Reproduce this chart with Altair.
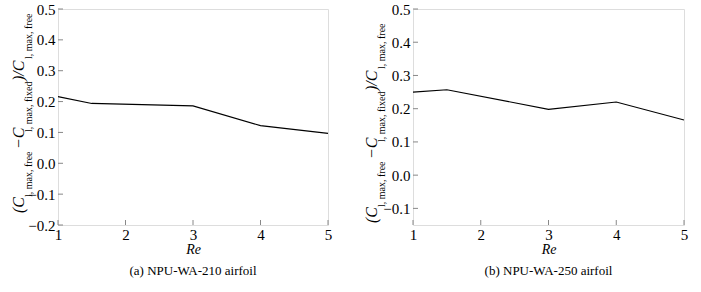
import altair as alt
import pandas as pd

# ---- data ----
re_a = [1, 1.5, 3, 4, 5]
val_a = [0.216, 0.194, 0.186, 0.122, 0.097]
re_b = [1, 1.5, 3, 4, 5]
val_b = [0.250, 0.257, 0.198, 0.220, 0.166]

x_ticks = [1, 2, 3, 4, 5]
y_ticks_a = [-0.2, -0.1, 0.0, 0.1, 0.2, 0.3, 0.4, 0.5]
y_ticks_b = [-0.1, 0.0, 0.1, 0.2, 0.3, 0.4, 0.5]

captions = ["(a) NPU-WA-210 airfoil", "(b) NPU-WA-250 airfoil"]

# y-axis title pieces: (text, is_subscript)
title_parts = [("(C", False), ("l, max, free", True), ("\u2212C", False),
               ("l, max, fixed", True), (")/C", False), ("l, max, free", True)]

FONT = "Liberation Serif"
H = 216


def panel(xs, ys, ydom, yticks, caption, starts, base_x, width):
    df = pd.DataFrame({"Re": xs, "v": ys})
    xsc = alt.Scale(domain=[1, 5], nice=False, zero=False)
    ysc = alt.Scale(domain=ydom, nice=False, zero=False)
    xax = alt.Axis(values=x_ticks, format="d", ticks=False, domain=False,
                   grid=False, title="Re", titleFontStyle="italic",
                   titleFontWeight="normal", titleFont=FONT, titleFontSize=14,
                   titlePadding=0, labelFont=FONT, labelFontSize=15,
                   labelColor="black", titleColor="black", labelPadding=2,
                   labelFlush=False, labelOverlap=False)
    yax = alt.Axis(values=yticks, format=".1f", ticks=False, domain=False,
                   grid=False, title=None, labelFont=FONT, labelFontSize=15,
                   labelColor="black", labelPadding=3, labelFlush=False,
                   labelOverlap=False)
    line = alt.Chart(df).mark_line(color="black", strokeWidth=1.1).encode(
        x=alt.X("Re:Q", scale=xsc, axis=xax, title="Re"),
        y=alt.Y("v:Q", scale=ysc, axis=yax, title=None),
    )
    xt = alt.Chart(pd.DataFrame({"t": x_ticks})).mark_rule(color="#888", strokeWidth=1).encode(
        x=alt.X("t:Q", scale=xsc, axis=xax, title="Re"), y=alt.value(H), y2=alt.value(H - 5))
    yt = alt.Chart(pd.DataFrame({"t": yticks})).mark_rule(color="#888", strokeWidth=1).encode(
        y=alt.Y("t:Q", scale=ysc, axis=yax, title=None), x=alt.value(0), x2=alt.value(5))
    layers = [line, xt, yt]
    for (txt, sub), st in zip(title_parts, starts):
        layers.append(
            alt.Chart(alt.Data(values=[{"k": 1}])).mark_text(
                angle=270, align="left", baseline="alphabetic", font=FONT,
                fontSize=10 if sub else 16, fontStyle="normal" if sub else "italic",
                color="black"
            ).encode(x=alt.value(base_x + (8 if sub else 0)), y=alt.value(st),
                     text=alt.value(txt))
        )
    return alt.layer(*layers).properties(
        width=width, height=H,
        title=alt.TitleParams(caption, orient="bottom", font=FONT, fontSize=13,
                              fontWeight="normal", color="black", offset=9,
                              frame="group", anchor="middle"))


left = panel(re_a, val_a, [-0.2, 0.5], y_ticks_a, captions[0],
             [204, 188, 140, 123, 72, 50], -34, 270)
right = panel(re_b, val_b, [-0.15, 0.5], y_ticks_b, captions[1],
              [214, 198, 150, 133, 82, 60], -36, 271)

chart = alt.hconcat(left, right, spacing=30).properties(
    padding={"left": 10, "top": 1, "right": 5, "bottom": 0}
).configure_view(stroke="black", strokeWidth=1).configure(background="white")

chart.save("out.html", embed_options={"renderer": "svg", "actions": False})
